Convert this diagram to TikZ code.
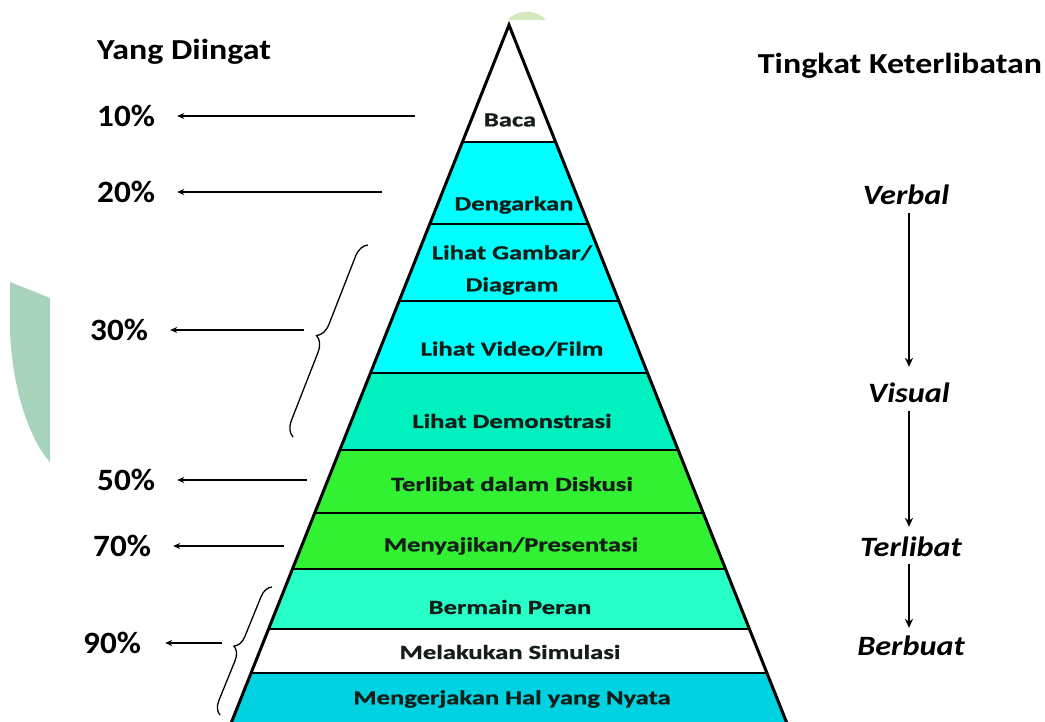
\documentclass[tikz,border=0pt]{standalone}
\usepackage{graphicx}
\usepackage{fontspec}
\setmainfont{Carlito}
\newfontfamily\heavyfont{Carlito}[BoldFeatures={FakeBold=0.8}]
\usetikzlibrary{arrows.meta,decorations.pathreplacing}
\definecolor{cyanA}{RGB}{0,255,255}
\definecolor{aquaA}{RGB}{0,240,190}
\definecolor{aquaB}{RGB}{40,255,200}
\definecolor{greenA}{RGB}{50,240,50}
\definecolor{cyanB}{RGB}{0,210,225}
\definecolor{wmA}{RGB}{168,212,190}
\definecolor{wmB}{RGB}{212,232,190}
\definecolor{lvltext}{RGB}{20,30,25}
\newcommand{\hstr}[2]{\scalebox{#1}[1]{#2}}
\tikzset{
  lvl/.style={font=\heavyfont\bfseries\fontsize{20}{22}\selectfont, text=lvltext, align=center, inner sep=0pt},
  pct/.style={font=\bfseries\fontsize{31}{33}\selectfont, anchor=west, inner sep=0pt},
  head/.style={font=\bfseries\fontsize{29}{31}\selectfont, inner sep=0pt},
  kind/.style={font=\bfseries\itshape\fontsize{28}{30}\selectfont, inner sep=0pt},
  larr/.style={draw=black, line width=1.4pt, -{Stealth[length=7pt,width=6pt]}, shorten >=22pt},
  rarr/.style={draw=black, line width=1.8pt, -{Stealth[length=9pt,width=8pt]}},
  band/.style={draw=black, line width=2.4pt},
  bracepath/.style={draw=black, line width=1.3pt, decorate, decoration={brace, amplitude=#1}}
}
\begin{document}
\begin{tikzpicture}[x=1pt,y=-1pt]
\useasboundingbox (0,0) rectangle (1045,722);
\fill[white] (0,0) rectangle (1045,722);
% watermark pieces
\fill[wmA] (10,282) -- (50,298) -- (50,462) .. controls (30,440) and (12,390) .. (10,330) -- cycle;
\fill[wmB] (508,20) .. controls (516,9) and (537,9) .. (546,20) -- cycle;
% pyramid bands
\coordinate (apex) at (509,25);
\coordinate (bl) at (224.4,740);
\coordinate (br) at (793.6,740);
\begin{scope}
\clip (apex) -- (bl) -- (br) -- cycle;
\fill[white]  (0,0)   rectangle (1045,142);
\fill[cyanA]  (0,142) rectangle (1045,373);
\fill[aquaA]  (0,373) rectangle (1045,450);
\fill[greenA] (0,450) rectangle (1045,569);
\fill[aquaB]  (0,569) rectangle (1045,629);
\fill[white]  (0,629) rectangle (1045,673);
\fill[cyanB]  (0,673) rectangle (1045,740);
\foreach \yy in {142,224,301,373,450,513,569,629,673}
  \draw[band] (0,\yy) -- (1045,\yy);
\end{scope}
\draw[black, line width=3pt, line join=miter] (bl) -- (apex) -- (br);
% level labels
\node[lvl] (baca) at (510,120) {\hstr{1.33}{Baca}};
\node[lvl] (dengar) at (514,205) {\hstr{1.33}{Dengarkan}};
\node[lvl] (gambar) at (512,270) {\hstr{1.33}{Lihat Gambar/}\\[10pt]\hstr{1.33}{Diagram}};
\node[lvl] (video) at (512,349) {\hstr{1.33}{Lihat Video/Film}};
\node[lvl] (demo) at (512,421) {\hstr{1.33}{Lihat Demonstrasi}};
\node[lvl] (diskusi) at (512,484) {\hstr{1.33}{Terlibat dalam Diskusi}};
\node[lvl] (saji) at (511,546) {\hstr{1.33}{Menyajikan/Presentasi}};
\node[lvl] (peran) at (510,607) {\hstr{1.33}{Bermain Peran}};
\node[lvl] (simul) at (510,652) {\hstr{1.33}{Melakukan Simulasi}};
\node[lvl] (nyata) at (512,699) {\hstr{1.33}{Mengerjakan Hal yang Nyata}};
% headings
\node[head] (yang) at (184,52) {\hstr{1.17}{Yang Diingat}};
\node[head] (tingkat) at (900,66) {\hstr{1.17}{Tingkat Keterlibatan}};
% percentages
\node[pct] (p10) at (97,116) {\hstr{1.07}{10\%}};
\node[pct] (p20) at (97,192) {\hstr{1.07}{20\%}};
\node[pct] (p30) at (90,330) {\hstr{1.07}{30\%}};
\node[pct] (p50) at (97,480) {\hstr{1.07}{50\%}};
\node[pct] (p70) at (93,546) {\hstr{1.07}{70\%}};
\node[pct] (p90) at (83,643) {\hstr{1.07}{90\%}};
% arrow starts
\coordinate (a10) at (415,116);
\coordinate (a20) at (382,192);
\coordinate (a30) at (304,330);
\coordinate (a50) at (307,480);
\coordinate (a70) at (284,546);
\coordinate (a90) at (222,643);
\draw[larr] (a10) -- (p10);
\draw[larr] (a20) -- (p20);
\draw[larr] (a30) -- (p30);
\draw[larr] (a50) -- (p50);
\draw[larr] (a70) -- (p70);
\draw[larr, shorten >=24pt] (a90) -- (p90);
% braces
\coordinate (b30a) at (293,437);
\coordinate (b30b) at (368,245);
\coordinate (b90a) at (220,715);
\coordinate (b90b) at (272,587);
\draw[bracepath=15pt] (b30a) -- (b30b);
\draw[bracepath=13pt] (b90a) -- (b90b);
% right column
\node[kind] (verbal) at (906,195) {\hstr{1.15}{Verbal}};
\node[kind] (visual) at (909,393) {\hstr{1.15}{Visual}};
\node[kind] (terlibat) at (911,547) {\hstr{1.15}{Terlibat}};
\node[kind] (berbuat) at (911,646) {\hstr{1.15}{Berbuat}};
\draw[rarr] ([yshift=-8pt]verbal.south -| 909,0) -- ([yshift=16pt]visual.north -| 909,0);
\draw[rarr] ([yshift=-8pt]visual.south -| 909,0) -- ([yshift=10pt]terlibat.north -| 909,0);
\draw[rarr] ([yshift=-7pt]terlibat.south -| 909,0) -- ([yshift=8pt]berbuat.north -| 909,0);
\end{tikzpicture}
\end{document}
